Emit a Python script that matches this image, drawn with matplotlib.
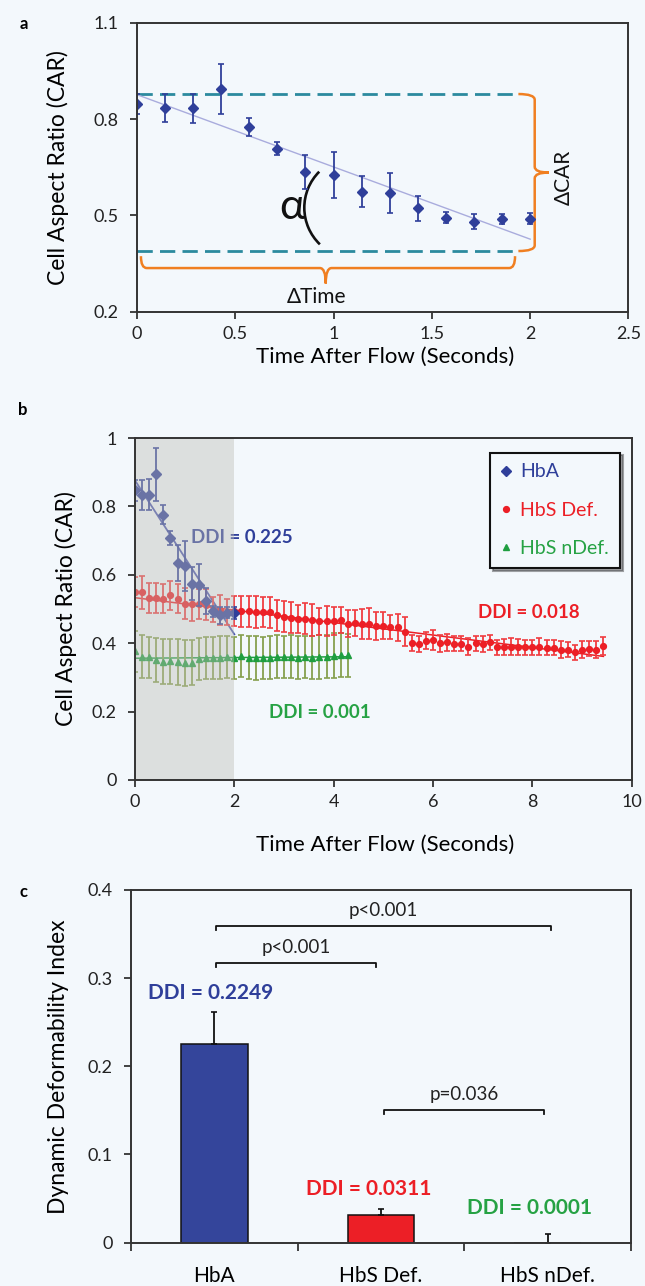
import matplotlib
matplotlib.use("Agg")
import matplotlib.pyplot as plt
from matplotlib.patches import Arc, PathPatch
from matplotlib.path import Path

plt.rcParams["font.family"] = ["Lato", "DejaVu Sans"]

# ── Colours ───────────────────────────────────────────────────────────────────
BG = "#f3f8fc"
BLUE = "#2f3f9a"
BLUE_BAR = "#34459b"
RED = "#ec1f26"
RED_ERR = "#f03c40"
GREEN = "#1f9e40"
GREEN_TXT = "#26a244"
GREEN_ERR = "#86a04e"
TEAL = "#2b8a9e"
ORANGE = "#f07f21"
SPINE = "#333333"

# ── Data ──────────────────────────────────────────────────────────────────────
HBA_T = [0.0, 0.143, 0.286, 0.429, 0.571, 0.714, 0.857, 1.0,
         1.143, 1.286, 1.429, 1.571, 1.714, 1.857, 2.0]
HBA_CAR = [0.847, 0.834, 0.834, 0.894, 0.776, 0.708, 0.634, 0.626,
           0.574, 0.571, 0.522, 0.493, 0.481, 0.489, 0.489]
HBA_ERR = [0.031, 0.044, 0.045, 0.078, 0.028, 0.020, 0.053, 0.073,
           0.049, 0.062, 0.038, 0.017, 0.024, 0.016, 0.017]
HBA_FIT = (0.876, -0.225)          # intercept, slope

DEF_T = [0.00, 0.14, 0.29, 0.43, 0.57, 0.71, 0.86, 1.00, 1.14, 1.29, 1.43,
         1.57, 1.71, 1.86, 2.00, 2.14, 2.29, 2.43, 2.57, 2.71, 2.86, 3.00,
         3.14, 3.29, 3.43, 3.57, 3.71, 3.86, 4.00, 4.14, 4.29, 4.43, 4.57,
         4.71, 4.86, 5.00, 5.14, 5.29, 5.43, 5.57, 5.71, 5.86, 6.00, 6.14,
         6.29, 6.43, 6.57, 6.71, 6.86, 7.00, 7.14, 7.29, 7.43, 7.57, 7.71,
         7.86, 8.00, 8.14, 8.29, 8.43, 8.57, 8.71, 8.86, 9.00, 9.14, 9.29,
         9.43]
DEF_CAR = [0.550, 0.549, 0.532, 0.532, 0.530, 0.540, 0.530, 0.516, 0.516,
           0.514, 0.512, 0.498, 0.498, 0.491, 0.493, 0.493, 0.493, 0.490,
           0.490, 0.490, 0.482, 0.478, 0.475, 0.471, 0.472, 0.468, 0.464,
           0.464, 0.464, 0.467, 0.457, 0.459, 0.456, 0.457, 0.451, 0.451,
           0.447, 0.446, 0.434, 0.400, 0.398, 0.407, 0.410, 0.400, 0.402,
           0.398, 0.398, 0.389, 0.400, 0.397, 0.403, 0.388, 0.389, 0.390,
           0.388, 0.388, 0.388, 0.390, 0.386, 0.386, 0.381, 0.381, 0.374,
           0.381, 0.384, 0.381, 0.392]
DEF_ERR = [0.044, 0.048, 0.044, 0.044, 0.042, 0.043, 0.042, 0.046, 0.050,
           0.044, 0.045, 0.037, 0.044, 0.037, 0.044, 0.046, 0.045, 0.047,
           0.044, 0.046, 0.045, 0.044, 0.044, 0.042, 0.045, 0.046, 0.039,
           0.044, 0.041, 0.038, 0.040, 0.038, 0.043, 0.045, 0.041, 0.039,
           0.036, 0.039, 0.043, 0.024, 0.024, 0.025, 0.030, 0.025, 0.025,
           0.022, 0.022, 0.025, 0.022, 0.024, 0.022, 0.022, 0.024, 0.025,
           0.024, 0.022, 0.022, 0.024, 0.022, 0.022, 0.024, 0.022, 0.022,
           0.025, 0.022, 0.024, 0.026]
DEF_FIT = (0.533, -0.0182)

NDEF_T = DEF_T[:31]
NDEF_CAR = [0.376, 0.361, 0.359, 0.351, 0.346, 0.347, 0.345, 0.342, 0.343,
            0.353, 0.357, 0.356, 0.358, 0.359, 0.357, 0.363, 0.358, 0.357,
            0.357, 0.358, 0.361, 0.359, 0.361, 0.358, 0.359, 0.358, 0.359,
            0.361, 0.363, 0.366, 0.364]
NDEF_ERR = [0.060, 0.062, 0.060, 0.064, 0.066, 0.066, 0.066, 0.068, 0.066,
            0.062, 0.062, 0.062, 0.062, 0.062, 0.062, 0.062, 0.064, 0.064,
            0.062, 0.062, 0.064, 0.062, 0.064, 0.062, 0.062, 0.062, 0.064,
            0.064, 0.066, 0.064, 0.064]
NDEF_FIT = (0.356, 0.001)

GROUPS = ["HbA", "HbS Def.", "HbS nDef."]
DDI = [0.2249, 0.0311, 0.0001]
DDI_ERR = [0.0365, 0.0072, 0.0098]
DDI_LABELS = ["DDI = 0.2249", "DDI = 0.0311", "DDI = 0.0001"]
P_LABELS = ["p<0.001", "p<0.001", "p=0.036"]
P_PAIRS = [(0, 2), (0, 1), (1, 2)]
P_LEVELS = [0.359, 0.317, 0.150]

# annotation levels for panel a
CAR_TOP, CAR_BOT = 0.878, 0.389
DASH_END = 1.94


def style_axes(ax):
    ax.set_facecolor(BG)
    for sp in ax.spines.values():
        sp.set_color(SPINE)
        sp.set_linewidth(1.4)
        sp.set_zorder(20)
    ax.tick_params(direction="out", length=5, width=1.3, color=SPINE,
                   labelsize=13, labelcolor="#222222")
    ax.tick_params(axis="y", pad=8)
    ax.tick_params(axis="x", pad=5)


def line_fit(ax, t0, t1, fit, **kw):
    a, b = fit
    ax.plot([t0, t1], [a + b * t0, a + b * t1], **kw)


def vbrace(ax, x_end, x_mid, x_tip, y_top, y_bot, r, **kw):
    yc = (y_top + y_bot) / 2
    verts = [(x_end, y_top), (x_mid, y_top), (x_mid, y_top - r),
             (x_mid, yc + r), (x_mid, yc), (x_tip, yc),
             (x_mid, yc), (x_mid, yc - r),
             (x_mid, y_bot + r), (x_mid, y_bot), (x_end, y_bot)]
    codes = [Path.MOVETO, Path.CURVE3, Path.CURVE3, Path.LINETO,
             Path.CURVE3, Path.CURVE3, Path.CURVE3, Path.CURVE3,
             Path.LINETO, Path.CURVE3, Path.CURVE3]
    ax.add_patch(PathPatch(Path(verts, codes), fill=False, **kw))


def hbrace(ax, x_l, x_r, y_end, y_mid, y_tip, r, x_c, **kw):
    verts = [(x_l, y_end), (x_l, y_mid), (x_l + r, y_mid),
             (x_c - r, y_mid), (x_c, y_mid), (x_c, y_tip),
             (x_c, y_mid), (x_c + r, y_mid),
             (x_r - r, y_mid), (x_r, y_mid), (x_r, y_end)]
    codes = [Path.MOVETO, Path.CURVE3, Path.CURVE3, Path.LINETO,
             Path.CURVE3, Path.CURVE3, Path.CURVE3, Path.CURVE3,
             Path.LINETO, Path.CURVE3, Path.CURVE3]
    ax.add_patch(PathPatch(Path(verts, codes), fill=False, **kw))


fig = plt.figure(figsize=(6.45, 12.86), dpi=100)
fig.patch.set_facecolor(BG)

# ── Panel a ───────────────────────────────────────────────────────────────────
ax = fig.add_axes([0.2124, 0.7576, 0.7620, 0.2247])
style_axes(ax)
ax.errorbar(HBA_T, HBA_CAR, yerr=HBA_ERR, fmt="D", color=BLUE, ms=5,
            elinewidth=1.3, capsize=2, capthick=1.2, zorder=4)
line_fit(ax, 0, 2.0, HBA_FIT, color="#a9acdd", lw=1.0, zorder=3)
for lvl in (CAR_TOP, CAR_BOT):
    ax.plot([0, DASH_END], [lvl, lvl], color=TEAL, lw=2,
            linestyle=(0, (5.5, 2.6)), zorder=2)
vbrace(ax, DASH_END, 2.023, 2.095, CAR_TOP, CAR_BOT, 0.018,
       color=ORANGE, lw=1.8)
hbrace(ax, 0.02, 1.923, 0.373, 0.336, 0.288, 0.03, 0.96,
       color=ORANGE, lw=1.8)
ax.text(2.17, 0.62, "ΔCAR", rotation=90, ha="center", va="center",
        fontsize=15, color="#111111")
ax.text(0.914, 0.246, "ΔTime", ha="center", va="center", fontsize=15,
        color="#111111")
ax.text(0.79, 0.527, "α", ha="center", va="center", fontsize=31,
        color="#111111")
ax.add_patch(Arc((1.110, 0.524), 0.518, 0.317, theta1=148.5, theta2=212.4,
                 color="#111111", lw=1.9))
ax.set_xlim(0, 2.5)
ax.set_ylim(0.2, 1.1)
ax.set_xticks([0, 0.5, 1, 1.5, 2, 2.5])
ax.set_xticklabels(["0", "0.5", "1", "1.5", "2", "2.5"])
ax.set_yticks([0.2, 0.5, 0.8, 1.1])
ax.set_yticklabels(["0.2", "0.5", "0.8", "1.1"])
ax.set_xlabel("Time After Flow (Seconds)", fontsize=16)
ax.set_ylabel("Cell Aspect Ratio (CAR)", fontsize=16.5)
ax.xaxis.set_label_coords(0.505, -0.12)
ax.yaxis.set_label_coords(-0.138, 0.5)
fig.text(0.031, 0.981, "a", fontsize=12, fontweight="bold", va="center")

# ── Panel b ───────────────────────────────────────────────────────────────────
ax = fig.add_axes([0.2093, 0.3935, 0.7701, 0.2659])
style_axes(ax)
ax.errorbar(NDEF_T, NDEF_CAR, yerr=NDEF_ERR, fmt="^", color=GREEN, ms=5,
            ecolor=GREEN_ERR, elinewidth=1.3, capsize=2, capthick=1.2,
            label="HbS nDef.", zorder=3)
ax.errorbar(DEF_T, DEF_CAR, yerr=DEF_ERR, fmt="o", color=RED, ms=4.2,
            ecolor=RED_ERR, elinewidth=1.3, capsize=2, capthick=1.2,
            label="HbS Def.", zorder=3)
ax.errorbar(HBA_T, HBA_CAR, yerr=HBA_ERR, fmt="D", color=BLUE, ms=5,
            elinewidth=1.3, capsize=2, capthick=1.2, label="HbA", zorder=4)
line_fit(ax, 0, NDEF_T[-1], NDEF_FIT, color=GREEN, lw=1.1, zorder=2)
line_fit(ax, 0, DEF_T[-1], DEF_FIT, color=RED, lw=1.1, zorder=2)
line_fit(ax, 0, 2.0, HBA_FIT, color="#4a56b0", lw=1.3, zorder=2)
ax.text(2.15, 0.71, "DDI = 0.225", color=BLUE, fontsize=13.5,
        fontweight="bold", ha="center", va="center")
ax.text(7.92, 0.491, "DDI = 0.018", color=RED, fontsize=13.5,
        fontweight="bold", ha="center", va="center")
ax.text(3.72, 0.198, "DDI = 0.001", color=GREEN_TXT, fontsize=13.5,
        fontweight="bold", ha="center", va="center")
ax.axvspan(0, 2, color="#bdbdb6", alpha=0.42, lw=0, zorder=10)
handles, labels = ax.get_legend_handles_labels()
order = [2, 1, 0]
leg = ax.legend([handles[i][0] for i in order], [labels[i] for i in order],
                loc="upper right", bbox_to_anchor=(0.976, 0.957),
                fontsize=14, frameon=True, fancybox=False, shadow=True,
                handlelength=0.5, handletextpad=0.5, labelspacing=1.1,
                borderpad=0.55, borderaxespad=0)
leg.get_frame().set_edgecolor("#111111")
leg.get_frame().set_linewidth(1.5)
leg.get_frame().set_facecolor(BG)
for txt, col in zip(leg.get_texts(), [BLUE, RED, GREEN_TXT]):
    txt.set_color(col)
leg.set_zorder(15)
ax.set_xlim(0, 10)
ax.set_ylim(0, 1)
ax.set_xticks([0, 2, 4, 6, 8, 10])
ax.set_yticks([0, 0.2, 0.4, 0.6, 0.8, 1.0])
ax.set_yticklabels(["0", "0.2", "0.4", "0.6", "0.8", "1"])
ax.set_xlabel("Time After Flow (Seconds)", fontsize=16)
ax.set_ylabel("Cell Aspect Ratio (CAR)", fontsize=16.5)
ax.xaxis.set_label_coords(0.503, -0.161)
ax.yaxis.set_label_coords(-0.117, 0.5)
fig.text(0.028, 0.681, "b", fontsize=12, fontweight="bold", va="center")

# ── Panel c ───────────────────────────────────────────────────────────────────
ax = fig.add_axes([0.2031, 0.0337, 0.7752, 0.2743])
style_axes(ax)
pos = [0.5, 1.5, 2.5]
ax.bar(pos, DDI, width=0.4, color=[BLUE_BAR, RED, GREEN],
       edgecolor="#111111", linewidth=1.1, zorder=3)
ax.errorbar(pos, DDI, yerr=[[0, 0, 0], DDI_ERR], fmt="none",
            ecolor="#111111", elinewidth=1.3, capsize=2, capthick=1.2,
            zorder=4)
for (i, j), lvl, lab in zip(P_PAIRS, P_LEVELS, P_LABELS):
    x0 = pos[i] + (0.02 if i > 0 else 0.01)
    x1 = pos[j] - (0.03 if j == 1 else (0.02 if i == 1 else -0.02))
    ax.plot([x0, x0, x1, x1], [lvl - 0.004, lvl, lvl, lvl - 0.004],
            color="#111111", lw=1.3)
    ax.text((x0 + x1) / 2, lvl + 0.008, lab, ha="center", va="bottom",
            fontsize=13.5, color="#222222")
ax.text(0.476, 0.283, DDI_LABELS[0], color=BLUE, fontsize=15,
        fontweight="bold", ha="center", va="center")
ax.text(1.428, 0.061, DDI_LABELS[1], color=RED, fontsize=15,
        fontweight="bold", ha="center", va="center")
ax.text(2.39, 0.039, DDI_LABELS[2], color=GREEN_TXT, fontsize=15,
        fontweight="bold", ha="center", va="center")
ax.set_xlim(0, 3)
ax.set_ylim(0, 0.4)
ax.set_xticks([0, 1, 2, 3])
ax.set_xticklabels([])
ax.set_xticks(pos, minor=True)
ax.set_xticklabels(GROUPS, minor=True, fontsize=15)
ax.tick_params(axis="x", which="minor", length=0, pad=17)
ax.tick_params(axis="x", which="major", length=6)
ax.set_yticks([0, 0.1, 0.2, 0.3, 0.4])
ax.set_yticklabels(["0", "0.1", "0.2", "0.3", "0.4"])
ax.set_ylabel("Dynamic Deformability Index", fontsize=16.5)
ax.yaxis.set_label_coords(-0.123, 0.5)
fig.text(0.031, 0.306, "c", fontsize=12, fontweight="bold", va="center")

fig.savefig("out.png", dpi=100, facecolor=BG)
